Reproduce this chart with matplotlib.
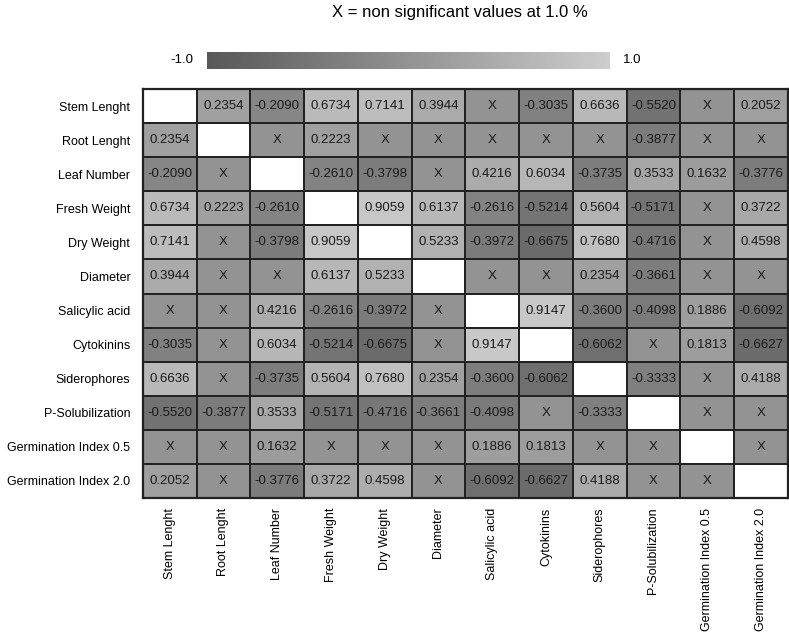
import numpy as np
import matplotlib
matplotlib.use("Agg")
import matplotlib.pyplot as plt
from matplotlib.colors import LinearSegmentedColormap
import matplotlib.colorbar as mcolorbar
import matplotlib.colors as mcolors

plt.rcParams['font.family'] = ['Liberation Sans', 'DejaVu Sans']

labels = ["Stem Lenght", "Root Lenght", "Leaf Number", "Fresh Weight", "Dry Weight",
          "Diameter", "Salicylic acid", "Cytokinins", "Siderophores", "P-Solubilization",
          "Germination Index 0.5", "Germination Index 2.0"]

X = None  # non significant
D = "diag"
stem = [D, 0.2354, -0.2090, 0.6734, 0.7141, 0.3944, X, -0.3035, 0.6636, -0.5520, X, 0.2052]
root = [0.2354, D, X, 0.2223, X, X, X, X, X, -0.3877, X, X]
leaf = [-0.2090, X, D, -0.2610, -0.3798, X, 0.4216, 0.6034, -0.3735, 0.3533, 0.1632, -0.3776]
fresh = [0.6734, 0.2223, -0.2610, D, 0.9059, 0.6137, -0.2616, -0.5214, 0.5604, -0.5171, X, 0.3722]
dry = [0.7141, X, -0.3798, 0.9059, D, 0.5233, -0.3972, -0.6675, 0.7680, -0.4716, X, 0.4598]
diameter = [0.3944, X, X, 0.6137, 0.5233, D, X, X, 0.2354, -0.3661, X, X]
salicylic = [X, X, 0.4216, -0.2616, -0.3972, X, D, 0.9147, -0.3600, -0.4098, 0.1886, -0.6092]
cytokinins = [-0.3035, X, 0.6034, -0.5214, -0.6675, X, 0.9147, D, -0.6062, X, 0.1813, -0.6627]
siderophores = [0.6636, X, -0.3735, 0.5604, 0.7680, 0.2354, -0.3600, -0.6062, D, -0.3333, X, 0.4188]
psol = [-0.5520, -0.3877, 0.3533, -0.5171, -0.4716, -0.3661, -0.4098, X, -0.3333, D, X, X]
gi05 = [X, X, 0.1632, X, X, X, 0.1886, 0.1813, X, X, D, X]
gi20 = [0.2052, X, -0.3776, 0.3722, 0.4598, X, -0.6092, -0.6627, 0.4188, X, X, D]

rows = [stem, root, leaf, fresh, dry, diameter, salicylic, cytokinins,
        siderophores, psol, gi05, gi20]

n = len(labels)
vals = np.zeros((n, n))
diag = np.zeros((n, n), dtype=bool)
for i, r in enumerate(rows):
    for j, v in enumerate(r):
        if v == D:
            diag[i, j] = True
        elif v is not None:
            vals[i, j] = v  # X cells shown at neutral 0

cmap = LinearSegmentedColormap.from_list("grays", ["#585858", "#cdcdcd"])
norm = mcolors.Normalize(-1, 1)

fig = plt.figure(figsize=(7.89, 6.36), dpi=100)
ax = fig.add_axes([0.181, 0.217, 0.8175, 0.643])

masked = np.ma.masked_array(vals, mask=diag)
ax.set_facecolor("white")
ax.pcolormesh(masked, cmap=cmap, norm=norm, edgecolors="#222222", linewidth=1.1)
# diagonal cells white with border
ax.pcolormesh(np.ma.masked_array(np.zeros((n, n)), mask=~diag), cmap=mcolors.ListedColormap(["white"]),
              edgecolors="#222222", linewidth=1.1)
ax.set_xlim(0, n)
ax.set_ylim(n, 0)

for i, r in enumerate(rows):
    for j, v in enumerate(r):
        if v == D:
            continue
        txt = "X" if v is None else f"{v:.4f}"
        ax.text(j + 0.5, i + 0.5, txt, ha="center", va="center", fontsize=9.5, color="#1a1a1a")

ax.set_xticks(np.arange(n) + 0.5)
ax.set_yticks(np.arange(n) + 0.5)
ax.set_xticklabels(labels, rotation=90, fontsize=9)
ax.set_yticklabels(labels, fontsize=9)
ax.tick_params(axis="x", length=0, pad=7)
ax.tick_params(axis="y", length=0, pad=9)
for s in ax.spines.values():
    s.set_linewidth(1.6)
    s.set_color("#222222")

# colorbar
cax = fig.add_axes([0.262, 0.8915, 0.511, 0.027])
cb = mcolorbar.ColorbarBase(cax, cmap=cmap, norm=norm, orientation="horizontal")
cb.outline.set_visible(False)
cb.set_ticks([])
fig.text(0.245, 0.905, "-1.0", ha="right", va="center", fontsize=9.5)
fig.text(0.79, 0.905, "1.0", ha="left", va="center", fontsize=9.5)

fig.text(0.583, 0.98, "X = non significant values at 1.0 %", ha="center", va="center", fontsize=12)

fig.savefig("out.png", dpi=100)
